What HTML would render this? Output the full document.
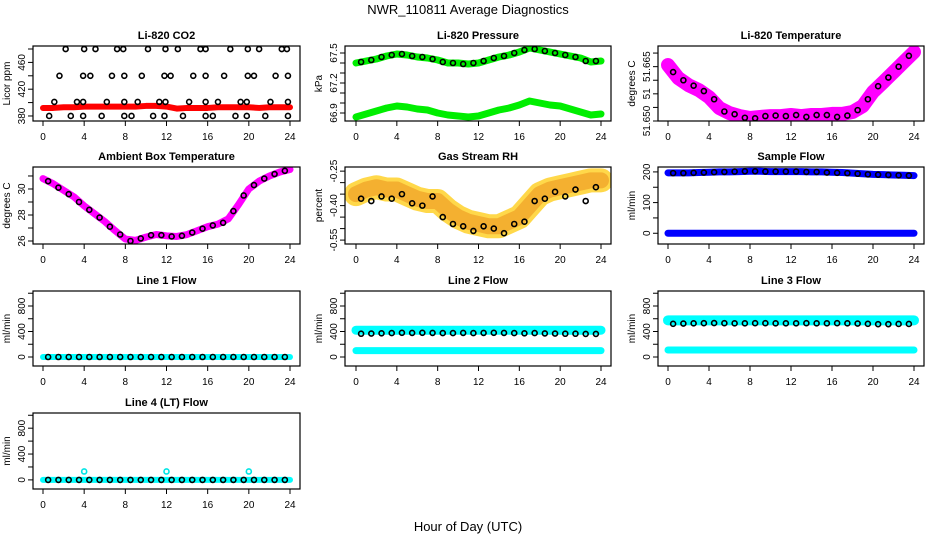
<!DOCTYPE html>
<html><head><meta charset="utf-8"><style>
html,body{margin:0;padding:0;background:#fff;}
svg{display:block;font-family:"Liberation Sans",Arial,sans-serif;}
</style></head><body>
<svg id="chart" width="936" height="540" viewBox="0 0 936 540" xmlns="http://www.w3.org/2000/svg">
<text x="468" y="14" text-anchor="middle" font-size="13">NWR_110811  Average Diagnostics</text>
<text x="468" y="531" text-anchor="middle" font-size="13">Hour of Day (UTC)</text>
</svg>
<script>
// ---- data ----
const hours = [0,1,2,3,4,5,6,7,8,9,10,11,12,13,14,15,16,17,18,19,20,21,22,23,24];
const halfHours = [0.5,1.5,2.5,3.5,4.5,5.5,6.5,7.5,8.5,9.5,10.5,11.5,12.5,13.5,14.5,15.5,16.5,17.5,18.5,19.5,20.5,21.5,22.5,23.5];
const xTicks = [0,4,8,12,16,20,24];

const co2Band = [392,392,393,393,394,394,394,394,394,394,395,395,394,391,392,392,392,393,393,393,393,392,393,393,393];
const co2PtX = [2.2,4,5.1,7.2,7.8,10.2,11.9,13.1,15.3,15.8,18.2,19.9,21,23.2,23.7, 1.6,3.9,4.6,6.7,7.9,9.6,11.8,12.4,14.6,15.8,17.6,19.9,20.5,22.6,23.8, 1.1,3.3,3.9,6.2,7.9,9.2,11.3,11.9,14.2,15.8,17,19.2,19.8,22.1,23.8, 0.6,2.7,3.9,5.7,7.9,8.6,10.7,11.8,13.6,15.8,16.5,18.7,19.8,21.6,23.8];
const co2PtY = [480,480,480,480,480,480,480,480,480,480,480,480,480,480,480, 440,440,440,440,440,440,440,440,440,440,440,440,440,440,440, 401,401,401,401,401,401,401,401,401,401,401,401,401,401,401, 380,380,380,380,380,380,380,380,380,380,380,380,380,380,380];

const presUpper = [67.40,67.42,67.44,67.47,67.49,67.48,67.46,67.45,67.43,67.40,67.40,67.39,67.40,67.43,67.46,67.48,67.51,67.55,67.53,67.51,67.49,67.47,67.45,67.41,67.42];
const presLower = [66.86,66.89,66.92,66.95,66.97,66.96,66.94,66.93,66.90,66.88,66.87,66.86,66.87,66.90,66.93,66.95,66.98,67.02,67.00,66.98,66.97,66.94,66.91,66.88,66.89];
const presPts = [67.41,67.43,67.46,67.48,67.49,67.47,67.46,67.44,67.41,67.40,67.39,67.40,67.42,67.45,67.47,67.50,67.53,67.54,67.52,67.50,67.48,67.46,67.42,67.42];

const tempBand = [51.6706,51.6658,51.6632,51.6614,51.6588,51.6548,51.6529,51.6518,51.6511,51.6515,51.6518,51.6518,51.6522,51.6518,51.6522,51.6522,51.6526,51.6526,51.6533,51.6555,51.6607,51.6643,51.6680,51.6717,51.6754];
const tempPts = [51.6680,51.6650,51.6630,51.6610,51.6580,51.6535,51.6525,51.6512,51.6510,51.6518,51.6520,51.6518,51.6522,51.6515,51.6522,51.6522,51.6515,51.6520,51.6540,51.6580,51.6628,51.6660,51.6700,51.6740];

const ambBand = [30.8,30.4,29.9,29.4,28.7,28.1,27.5,26.8,26.15,26.05,26.3,26.5,26.4,26.35,26.5,26.8,27.1,27.3,27.7,28.8,30.0,30.6,31.0,31.3,31.5];
const ambPts = [30.6,30.1,29.6,29.0,28.4,27.8,27.1,26.5,26.0,26.2,26.45,26.45,26.35,26.4,26.65,26.95,27.2,27.4,28.3,29.5,30.3,30.8,31.15,31.4];

const rhBand = [-0.35,-0.33,-0.32,-0.33,-0.33,-0.35,-0.37,-0.38,-0.38,-0.42,-0.45,-0.47,-0.48,-0.49,-0.49,-0.47,-0.45,-0.40,-0.35,-0.33,-0.32,-0.31,-0.30,-0.29,-0.29];
const rhPts = [-0.37,-0.38,-0.36,-0.37,-0.35,-0.39,-0.40,-0.36,-0.45,-0.48,-0.49,-0.51,-0.49,-0.50,-0.52,-0.48,-0.47,-0.38,-0.37,-0.34,-0.36,-0.33,-0.38,-0.32];

const sampleTop = [197,197,197,198,199,200,200,201,202,202,201,201,201,201,200,200,199,198,196,194,192,191,190,189,188];
const sampleZero = [0,0,0,0,0,0,0,0,0,0,0,0,0,0,0,0,0,0,0,0,0,0,0,0,0];
const samplePts = [196,196,197,198,199,200,201,202,202,201,201,201,201,200,200,198,197,196,194,192,191,190,189,188];

const l1Cyan = [0,0,0,0,0,0,0,0,0,0,0,0,0,0,0,0,0,0,0,0,0,0,0,0,0];
const l1Pts = [0,0,0,0,0,0,0,0,0,0,0,0,0,0,0,0,0,0,0,0,0,0,0,0];
const l2CyanHi = [420,420,420,420,420,420,420,420,420,420,420,420,420,420,420,420,420,420,420,420,420,420,420,420,420];
const l2CyanLo = [100,100,100,100,100,100,100,100,100,100,100,100,100,100,100,100,100,100,100,100,100,100,100,100,100];
const l2Pts = [365,368,372,375,380,378,380,378,375,375,378,375,378,380,378,375,372,375,370,368,365,365,362,362];
const l3CyanHi = [575,575,575,575,575,575,575,575,575,575,575,575,575,575,575,575,575,575,575,575,575,575,575,575,575];
const l3CyanLo = [110,110,110,110,110,110,110,110,110,110,110,110,110,110,110,110,110,110,110,110,110,110,110,110,110];
const l3Pts = [520,525,528,530,532,530,528,528,530,530,528,528,528,530,528,528,530,528,525,520,515,515,518,518];
const l4Cyan = [0,0,0,0,0,0,0,0,0,0,0,0,0,0,0,0,0,0,0,0,0,0,0,0,0];
const l4OutX = [4,12,20];
const l4OutY = [130,130,130];
const l4Pts = [0,0,0,0,0,0,0,0,0,0,0,0,0,0,0,0,0,0,0,0,0,0,0,0];

// ---- drawing ----
const svg = document.getElementById('chart');
const NS = 'http://www.w3.org/2000/svg';
function mk(tag, attrs, parent) {
  const e = document.createElementNS(NS, tag);
  for (const k in attrs) e.setAttribute(k, attrs[k]);
  (parent || svg).appendChild(e);
  return e;
}
const cols = [{l:33,r:300,x0:43,x24:290},{l:345,r:611,x0:356,x24:601},{l:658,r:924,x0:668,x24:914}];
const rows = [{t:46,b:121},{t:167,b:244},{t:291,b:366},{t:413,b:489}];

function panel(name, title, ylab, ci, ri, ymin, ymax, yTicks, yLabVals, yLabTxt) {
  const c = cols[ci], r = rows[ri];
  const g = mk('g', {});
  
  
  const sx = h => c.x0 + (c.x24 - c.x0) * h / 24;
  const sy = v => r.b - (v - ymin) / (ymax - ymin) * (r.b - r.t);
  const t = mk('text', {x:(c.l+c.r)/2, y:r.t-7, 'text-anchor':'middle', 'font-size':11, 'font-weight':'bold'}, g);
  t.textContent = title;
  
  
  const yl = mk('text', {x:0, y:0, transform:`translate(${c.l-23},${(r.t+r.b)/2}) rotate(-90)`, 'text-anchor':'middle', 'font-size':10}, g);
  yl.textContent = ylab;
  
  
  const ax = mk('g', {}, g);
  
  
  xTicks.forEach(h => {
    mk('line', {x1:sx(h), x2:sx(h), y1:r.b, y2:r.b+5, stroke:'#000'}, ax);
    const tx = mk('text', {x:sx(h), y:r.b+19, 'text-anchor':'middle', 'font-size':10}, ax);
    tx.textContent = h;
  });
  const ay = mk('g', {}, g);
  
  
  yTicks.forEach(v => mk('line', {x1:c.l-5, x2:c.l, y1:sy(v), y2:sy(v), stroke:'#000'}, ay));
  yLabVals.forEach((v, i) => {
    const tx = mk('text', {x:0, y:0, transform:`translate(${c.l-8},${sy(v)}) rotate(-90)`, 'text-anchor':'middle', 'font-size':10}, ay);
    tx.textContent = yLabTxt[i];
  });
  const clip = 'clip' + name;
  const cp = mk('clipPath', {id:clip}, g);
  mk('rect', {x:c.l, y:r.t, width:c.r-c.l, height:r.b-r.t}, cp);
  const plot = mk('g', {'clip-path':`url(#${clip})`}, g);
  mk('rect', {x:c.l, y:r.t, width:c.r-c.l, height:r.b-r.t, fill:'none', stroke:'#000', 'stroke-width':1.2}, g);
  return {
    band(xs, ys, color, w, nm) {
      const p = mk('polyline', {points: xs.map((h,i)=>sx(h)+','+sy(ys[i])).join(' '), fill:'none', stroke:color, 'stroke-width':w, 'stroke-linecap':'round', 'stroke-linejoin':'round'}, plot);
      
      
    },
    pts(xs, ys, color, nm) {
      const pg = mk('g', {}, plot);
      
      
      xs.forEach((h,i) => mk('circle', {cx:sx(h), cy:sy(ys[i]), r:2.5, fill:'none', stroke:color, 'stroke-width':1.6}, pg));
    }
  };
}

let p;
p = panel('co2-panel','Li-820 CO2','Licor ppm',0,0,372.5,484.5,[380,400,420,440,460,480],[380,420,460],['380','420','460']);
p.band(hours, co2Band, '#ff0000', 6, 'co2-band');
p.pts(co2PtX, co2PtY, '#000', 'co2-points');

p = panel('pressure-panel','Li-820 Pressure','kPa',1,0,66.82,67.57,[66.9,67.0,67.1,67.2,67.3,67.4,67.5],[66.9,67.2,67.5],['66.9','67.2','67.5']);
p.band(hours, presUpper, '#00ee00', 7, 'pressure-upper-band');
p.band(hours, presLower, '#00ee00', 7, 'pressure-lower-band');
p.pts(halfHours, presPts, '#000', 'pressure-points');

p = panel('temperature-panel','Li-820 Temperature','degrees C',2,0,51.650,51.6776,[51.650,51.655,51.660,51.665,51.670,51.675],[51.650,51.660,51.670],['51.650','51','51.665']);
p.band(hours, tempBand, '#ff00ff', 14, 'temperature-band');
p.pts(halfHours, tempPts, '#000', 'temperature-points');

p = panel('ambient-panel','Ambient Box Temperature','degrees C',0,1,25.77,31.69,[26,27,28,29,30,31],[26,28,30],['26','28','30']);
p.band(hours, ambBand, '#ff00ff', 7, 'ambient-band');
p.pts(halfHours, ambPts, '#000', 'ambient-points');

p = panel('rh-panel','Gas Stream RH','percent',1,1,-0.567,-0.232,[-0.55,-0.50,-0.45,-0.40,-0.35,-0.30,-0.25],[-0.55,-0.40,-0.25],['-0.55','-0.40','-0.25']);
p.band(hours, rhBand, '#ffd84a', 24, 'rh-band-outer');
p.band(hours, rhBand, '#f4b030', 16, 'rh-band');
p.pts(halfHours, rhPts, '#000', 'rh-points');

p = panel('sample-flow-panel','Sample Flow','ml/min',2,1,-35,216,[0,50,100,150,200],[0,100,200],['0','100','200']);
p.band(hours, sampleTop, '#0000ff', 7, 'sample-flow-band');
p.band(hours, sampleZero, '#0000ff', 7, 'sample-zero-band');
p.pts(halfHours, samplePts, '#000', 'sample-flow-points');

const fT = [0,200,400,600,800,1000], fL = [0,400,800], fS = ['0','400','800'];
p = panel('line1-panel','Line 1 Flow','ml/min',0,2,-141,1035,fT,fL,fS);
p.band(hours, l1Cyan, '#00ffff', 6, 'line1-cyan-band');
p.pts(halfHours, l1Pts, '#000', 'line1-points');

p = panel('line2-panel','Line 2 Flow','ml/min',1,2,-141,1035,fT,fL,fS);
p.band(hours, l2CyanHi, '#00ffff', 9, 'line2-cyan-high');
p.band(hours, l2CyanLo, '#00ffff', 7, 'line2-cyan-low');
p.pts(halfHours, l2Pts, '#000', 'line2-points');

p = panel('line3-panel','Line 3 Flow','ml/min',2,2,-141,1035,fT,fL,fS);
p.band(hours, l3CyanHi, '#00ffff', 10, 'line3-cyan-high');
p.band(hours, l3CyanLo, '#00ffff', 7, 'line3-cyan-low');
p.pts(halfHours, l3Pts, '#000', 'line3-points');

p = panel('line4-panel','Line 4 (LT) Flow','ml/min',0,3,-141,1035,fT,fL,fS);
p.band(hours, l4Cyan, '#00ffff', 6, 'line4-cyan-band');
p.pts(l4OutX, l4OutY, '#00e5e5', 'line4-outliers');
p.pts(halfHours, l4Pts, '#000', 'line4-points');
</script>
</body></html>
